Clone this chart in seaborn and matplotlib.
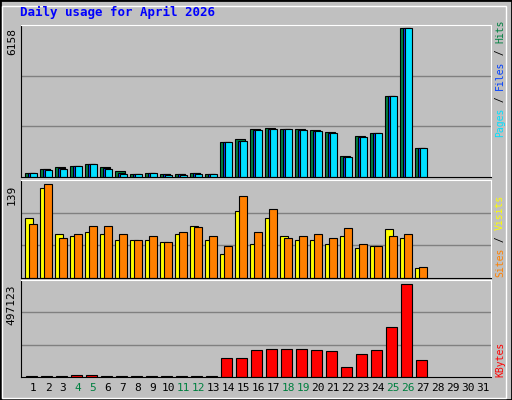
import numpy as np
import seaborn as sns
import matplotlib.pyplot as plt
from matplotlib.patches import Rectangle

days = np.arange(1, 28)
all_days = list(range(1, 32))
weekend = [4, 5, 11, 12, 18, 19, 25, 26]

hits = [181, 348, 404, 474, 557, 404, 237, 139, 181, 139, 139, 181, 139,
        1435, 1574, 1992, 2034, 1992, 1992, 1950, 1853, 864, 1700, 1811, 3330, 6158, 1198]
files = [170, 320, 360, 474, 557, 360, 150, 139, 181, 110, 110, 150, 139,
         1435, 1500, 1950, 2000, 1992, 1950, 1910, 1820, 830, 1670, 1811, 3330, 6158, 1198]
pages = [181, 306, 348, 474, 557, 348, 139, 139, 181, 98, 98, 139, 139,
         1435, 1477, 1936, 1992, 1992, 1936, 1895, 1811, 822, 1658, 1811, 3330, 6158, 1198]
sites = [89, 134, 66, 62, 69, 66, 57, 56, 57, 53, 65, 77, 57,
         36, 100, 50, 89, 63, 56, 56, 51, 63, 45, 48, 73, 60, 15]
visits = [80, 139, 60, 65, 77, 77, 66, 57, 63, 53, 68, 76, 62,
          47, 122, 69, 103, 60, 62, 66, 59, 74, 50, 48, 63, 66, 17]
kbytes = [5000, 5000, 5000, 11000, 11000, 5000, 5000, 5000, 5000, 5000, 5000, 5000, 5000,
          103800, 103800, 142000, 147500, 147500, 147500, 142000, 136600, 54600,
          125600, 142000, 267700, 497123, 92900]

BG = '#C0C0C0'
fig = plt.figure(figsize=(5.12, 4.0), dpi=100, facecolor=BG)
W, H = 512, 400


def add_ax(top, bottom):
    ax = fig.add_axes([21 / W, 1 - bottom / H, (491 - 21) / W, (bottom - top) / H])
    ax.set_facecolor(BG)
    for s in ax.spines.values():
        s.set_color('black')
    ax.spines['top'].set_color('white')
    ax.spines['right'].set_color('white')
    return ax


def bars(ax, offset, vals, width, color):
    sns.barplot(x=days + offset, y=vals, native_scale=True, width=width, color=color,
                saturation=1, edgecolor='black', linewidth=0.8, ax=ax)


def finish(ax, top_val, ymax):
    ax.set_xlim(0.2, 31.53)
    ax.set_ylim(0, ymax)
    for g in (ymax / 3, 2 * ymax / 3):
        ax.axhline(g, color='#808080', lw=1, zorder=0)
    ax.set_axisbelow(True)
    ax.set_yticks([top_val])
    ax.set_yticklabels([str(top_val)], rotation=90, va='top', family='DejaVu Sans Mono', fontsize=8)
    ax.tick_params(length=0, pad=3)
    ax.set_xticks([])
    ax.set_xlabel('')


ax1 = add_ax(25, 177)
bars(ax1, -0.2, hits, 0.67, '#008040')
bars(ax1, -0.1, files, 0.5, '#0040FF')
bars(ax1, 0.03, pages, 0.45, '#00E0FF')
finish(ax1, 6158, 6284)

ax2 = add_ax(180, 278)
bars(ax2, -0.25, sites, 0.55, '#FFFF00')
bars(ax2, 0.0, visits, 0.5, '#FF8000')
finish(ax2, 139, 145.5)

ax3 = add_ax(280, 377)
bars(ax3, -0.1, kbytes, 0.7, '#FF0000')
finish(ax3, 497123, 519000)

ax3.set_xticks(all_days)
ax3.set_xticklabels([str(d) for d in all_days], family='DejaVu Sans Mono', fontsize=8)
for lbl, d in zip(ax3.get_xticklabels(), all_days):
    lbl.set_color('#008040' if d in weekend else 'black')
ax3.tick_params(axis='x', pad=4)

fig.text(20 / W, 1 - 12 / H, 'Daily usage for April 2026', color='#0000FF', fontsize=9,
         fontweight='bold', family='DejaVu Sans Mono', va='center')

# rotated multi-coloured legend on the right
fs = 7
cpx = 0.602 * fs * 100 / 72


def vlegend(bottom_y, pieces):
    y = bottom_y
    for txt, col in pieces:
        fig.text(500 / W, 1 - y / H, txt, color=col, rotation=90, fontsize=fs,
                 family='DejaVu Sans Mono', ha='center', va='bottom')
        y -= len(txt) * cpx


vlegend(137, [('Pages', '#00E0FF'), (' / ', 'black'), ('Files', '#0040FF'),
              (' / ', 'black'), ('Hits', '#008040')])
vlegend(277, [('Sites', '#FF8000'), (' / ', 'black'), ('Visits', '#FFFF00')])
vlegend(377, [('KBytes', '#FF0000')])

fig.patches.append(Rectangle((0, 0), 1, 1, transform=fig.transFigure, fill=False,
                             edgecolor='black', lw=2))
fig.patches.append(Rectangle((2 / W, 2 / H), 1 - 8 / W, 1 - 8 / H, transform=fig.transFigure,
                             fill=False, edgecolor='white', lw=1))

fig.savefig('out.png', dpi=100, facecolor=BG)
